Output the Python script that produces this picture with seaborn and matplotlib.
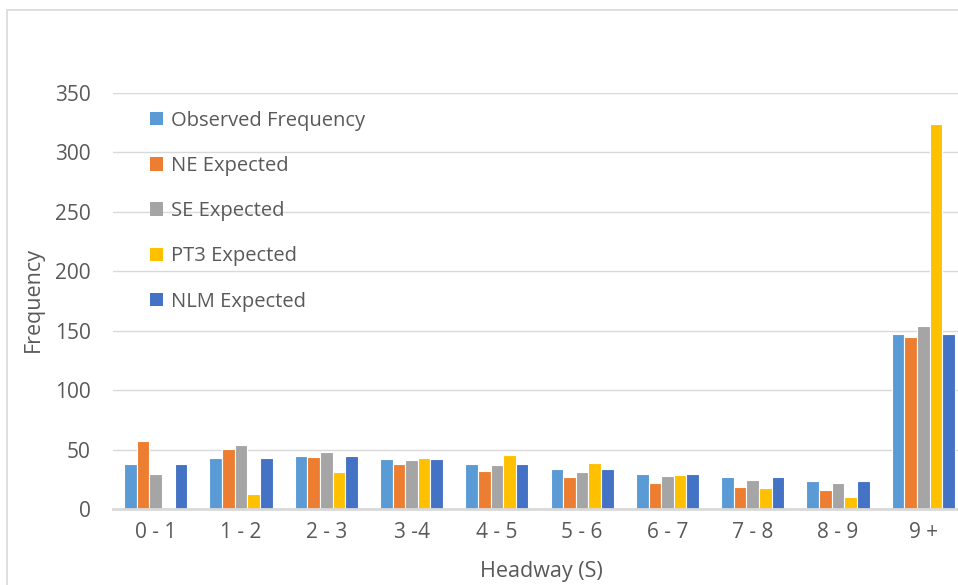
import numpy as np
import pandas as pd
import matplotlib
matplotlib.use("Agg")
import matplotlib.pyplot as plt
import seaborn as sns
from matplotlib.patches import Rectangle, Patch

# ================================
# Datos
# ================================
categories = ['0 - 1', '1 - 2', '2 - 3', '3 -4', '4 - 5', '5 - 6', '6 - 7', '7 - 8', '8 - 9', '9 +']
observed = [38, 43, 45, 42, 38, 34, 30, 27, 24, 147]
ne_expected = [57, 51, 44, 38, 32, 27, 22, 19, 16, 145]
se_expected = [30, 54, 48, 41, 37, 31, 28, 25, 22, 154]
pt3_expected = [0, 13, 31, 43, 46, 39, 29, 18, 10, 324]
nlm_expected = [38, 43, 45, 42, 38, 34, 30, 27, 24, 147]

series_names = ['Observed Frequency', 'NE Expected', 'SE Expected', 'PT3 Expected', 'NLM Expected']
colors = ['#5B9BD5', '#ED7D31', '#A5A5A5', '#FFC000', '#4472C4']

values = [observed, ne_expected, se_expected, pt3_expected, nlm_expected]
df = pd.DataFrame({
    'Headway': categories * len(series_names),
    'Serie': np.repeat(series_names, len(categories)),
    'Frequency': np.concatenate(values),
})

# ================================
# Figura
# ================================
sns.set_style('white')
plt.rcParams['font.family'] = ['Open Sans', 'DejaVu Sans']
text_gray = '#595959'
grid_gray = '#D9D9D9'

fig = plt.figure(figsize=(9.58, 5.85), dpi=100)
# marco exterior del gráfico (recortado a la derecha y abajo)
fig.patches.append(Rectangle((7 / 958, -0.1), 1.2, 1 - 10 / 585 + 0.1, transform=fig.transFigure,
                             fill=False, edgecolor=grid_gray, linewidth=1.2))

ax = fig.add_axes([113 / 958, 1 - 509.3 / 585, (966 - 113) / 958, (509.3 - 92.7) / 585])
sns.barplot(data=df, x='Headway', y='Frequency', hue='Serie', palette=colors,
            width=0.74, edgecolor='white', linewidth=0.8, saturation=1, ax=ax, legend=False)

ax.set_ylim(0, 350)
ax.set_yticks(range(0, 351, 50))
ax.yaxis.grid(True, color=grid_gray, linewidth=1)
ax.set_axisbelow(True)
for side in ['top', 'right', 'left']:
    ax.spines[side].set_visible(False)
ax.spines['bottom'].set_color(grid_gray)
ax.spines['bottom'].set_linewidth(2)
ax.tick_params(axis='both', length=0, labelsize=15, colors=text_gray)
ax.tick_params(axis='x', pad=9)
ax.tick_params(axis='y', pad=16)

ax.set_xlabel('Headway (S)', fontsize=15.5, color=text_gray)
ax.set_ylabel('Frequency', fontsize=15.5, color=text_gray)
ax.xaxis.set_label_coords((541 - 113) / 853, -(572 - 509.3) / 416.6)
ax.yaxis.set_label_coords(-(113 - 33) / 853, (509.3 - 300) / 416.6)
ax.xaxis.label.set_va('center')
ax.yaxis.label.set_va('center')

handles = [Patch(facecolor=c, edgecolor='none') for c in colors]
ax.legend(handles, series_names, loc='upper left', bbox_to_anchor=(0.022, 1.0),
          frameon=False, fontsize=14.5, labelcolor=text_gray, handlelength=0.65, handleheight=0.65,
          handletextpad=0.4, labelspacing=1.25)

fig.savefig('out.png', dpi=100)
